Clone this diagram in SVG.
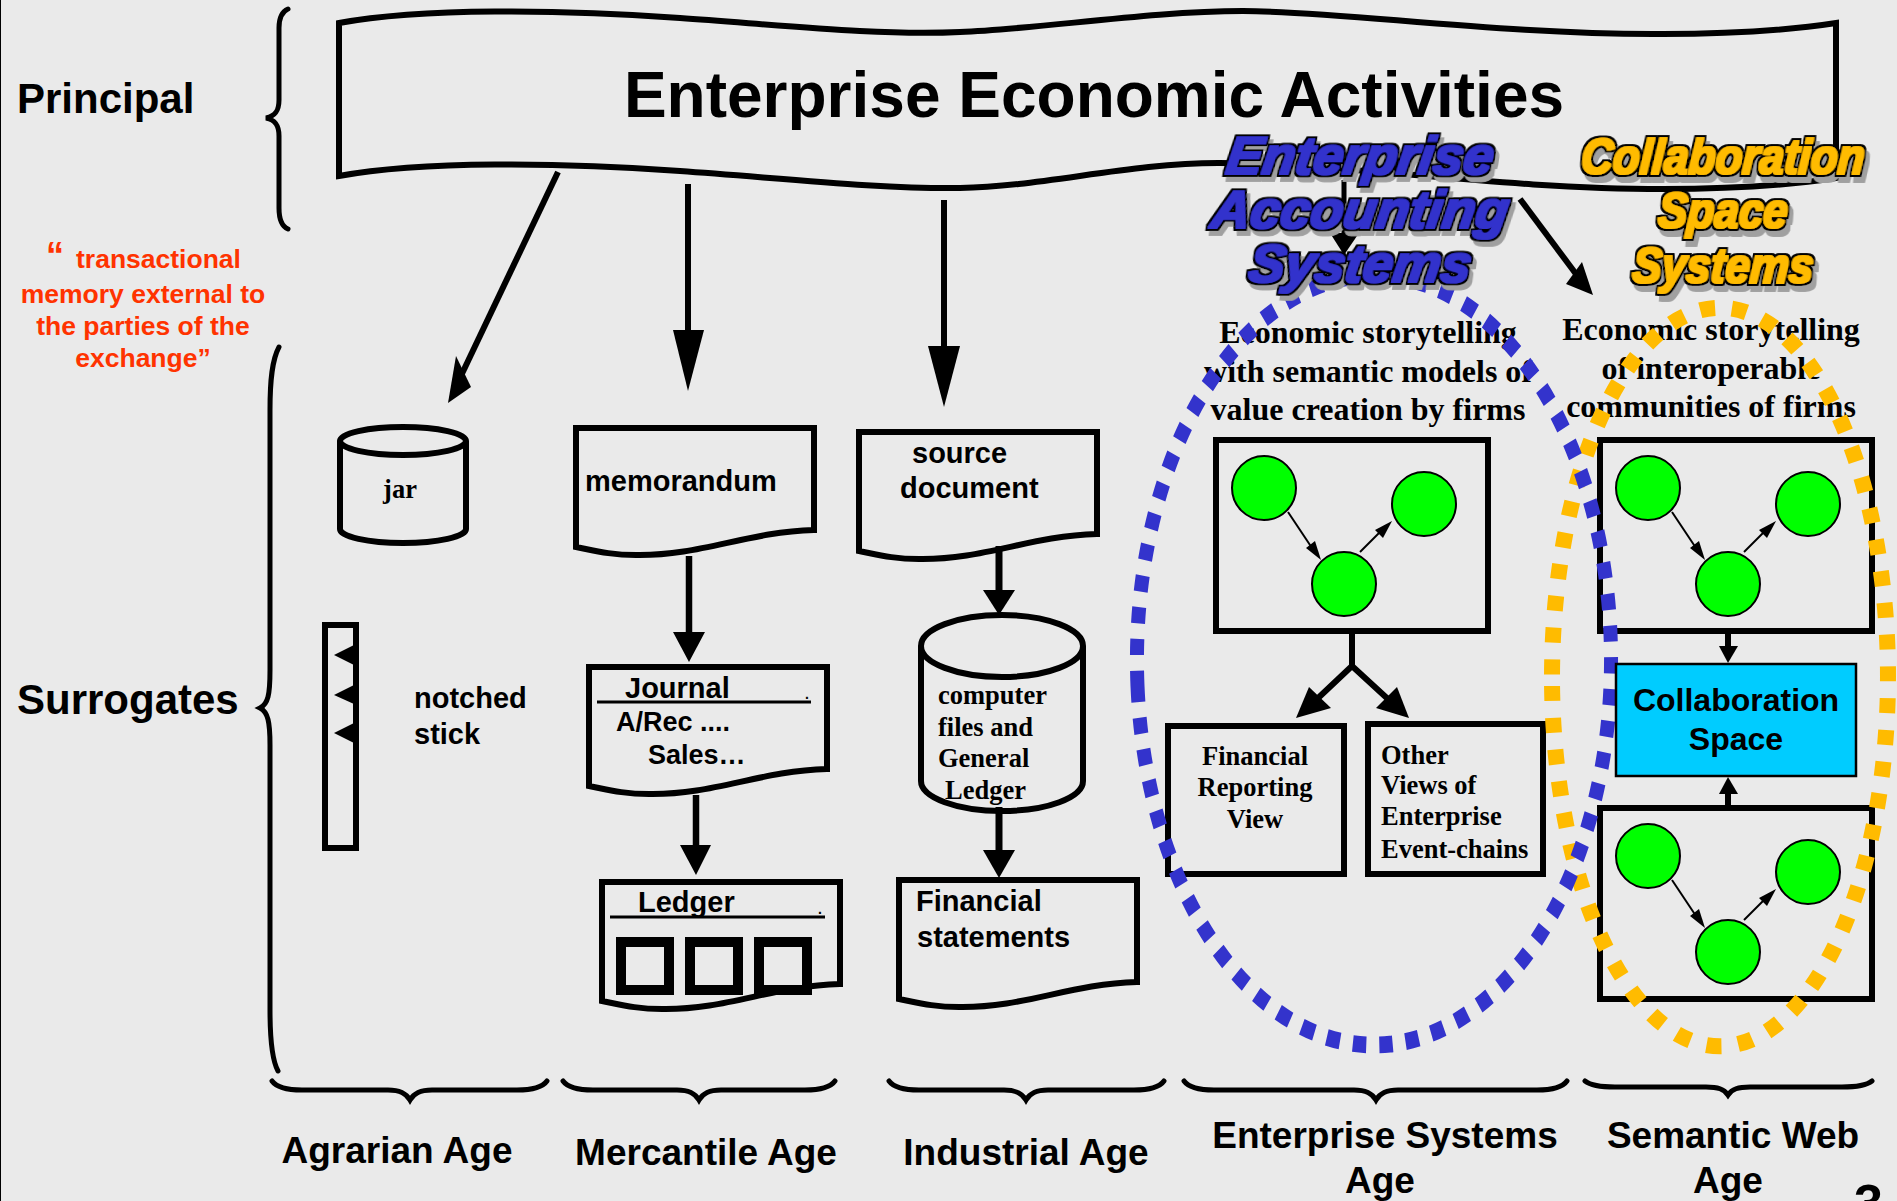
<svg xmlns="http://www.w3.org/2000/svg" xmlns:xlink="http://www.w3.org/1999/xlink" width="1897" height="1201" viewBox="0 0 1897 1201">
<style>
.s{font-family:"Liberation Sans",Arial,sans-serif;font-weight:bold;fill:#000}
.r{font-family:"Liberation Serif","Times New Roman",serif;font-weight:bold;fill:#000}
.m{text-anchor:middle}
.f29{font-size:29px}.f37{font-size:37px}.f42{font-size:42px}
.f26{font-size:26.5px}.f32{font-size:32px}
.red{font-size:26.5px;fill:#ff3300}
.o{fill:none;stroke:#000;stroke-width:6;stroke-linejoin:miter}
.d{fill:#eaeaea;stroke:#000;stroke-width:10}
.b{fill:none;stroke:#000;stroke-width:5;stroke-linecap:round}
.l{stroke:#000;stroke-width:6;fill:none}
.h{fill:#000;stroke:none}
.g{fill:#00ff00;stroke:#000;stroke-width:2}
.t{stroke:#000;stroke-width:2;fill:none}
.art{font-family:"Liberation Sans",Arial,sans-serif;font-weight:bold;font-style:italic;filter:url(#sh);text-anchor:middle}
.blue{fill:#3333cc;font-size:54px}
.gold{fill:#ffbb00;font-size:44px}
</style>
<defs>
<filter id="sh" x="-10%" y="-25%" width="125%" height="160%">
<feMorphology in="SourceGraphic" operator="dilate" radius="0.5" result="fat"/>
<feMorphology in="SourceAlpha" operator="dilate" radius="2.5" result="edge"/>
<feOffset in="edge" dx="4" dy="5" result="off"/>
<feFlood flood-color="#a0a0a0"/>
<feComposite in2="off" operator="in" result="shadow"/>
<feMerge><feMergeNode in="shadow"/><feMergeNode in="edge"/><feMergeNode in="fat"/></feMerge>
</filter>
<path id="doc" d="M0,0 H238 V102 C170,104 125,128 60,127 C35,127 20,123 0,119 Z"/>
<g id="net">
<circle class="g" cx="0" cy="0" r="32"/><circle class="g" cx="160" cy="16" r="32"/><circle class="g" cx="80" cy="96" r="32"/>
<line class="t" x1="24" y1="24" x2="52" y2="66"/><polygon class="h" points="57,72 42,60 51,53"/>
<line class="t" x1="96" y1="64" x2="122" y2="38"/><polygon class="h" points="128,33 119,50 111,42"/>
</g>
</defs>
<rect width="1897" height="1201" fill="#eaeaea"/>
<rect x="0" y="0" width="1" height="1201" fill="#000"/>

<g id="banner">
<path class="o" d="M339,23 C420,8 560,9 680,18 C780,25 880,36 960,32 C1040,29 1150,11 1243,11 C1340,11 1500,35 1663,34 C1730,34 1790,30 1836,23 V178 C1790,185 1730,189 1663,189 C1500,189 1340,163 1218,163 C1130,163 1040,187 960,188 C880,189 780,178 680,171 C560,162 420,161 339,176 Z"/>
<text class="s m" x="1094" y="117" font-size="64">Enterprise Economic Activities</text>
</g>
<g id="labels">
<text class="s f42" x="17" y="113">Principal</text>
<text class="s f42" x="17" y="714">Surrogates</text>
<text class="s red" x="46" y="268" style="font-size:36px">“</text>
<text class="s red" x="76" y="268">transactional</text>
<text class="s red m" x="143" y="303">memory external to</text>
<text class="s red m" x="143" y="335">the parties of the</text>
<text class="s red m" x="143" y="367">exchange”</text>
<text class="s m f37" x="397" y="1163">Agrarian Age</text>
<text class="s m f37" x="706" y="1165">Mercantile Age</text>
<text class="s m f37" x="1026" y="1165">Industrial Age</text>
<text class="s m f37" x="1385" y="1148">Enterprise Systems</text>
<text class="s m f37" x="1380" y="1193">Age</text>
<text class="s m f37" x="1733" y="1148">Semantic Web</text>
<text class="s m f37" x="1728" y="1193">Age</text>
<text class="s" x="1854" y="1221" font-size="52">3</text>
</g>
<g id="braces">
<path class="b" d="M288,9 C281,12 279,20 279,28 V100 C279,110 276,116 266,118 C276,120 279,126 279,136 V208 C279,218 281,226 288,229"/>
<path class="b" d="M279,347 C272,360 270,380 270,410 V670 C270,695 268,704 260,708 C268,712 270,722 270,745 V1010 C270,1040 272,1060 278,1071"/>
<path class="b" d="M272,1081 C277,1088 287,1090 302,1090 H388 C400,1090 406,1093 410,1100 C414,1093 420,1090 432,1090 H517 C532,1090 542,1088 547,1081"/>
<path class="b" d="M563,1081 C568,1088 578,1090 593,1090 H677 C689,1090 695,1093 699,1100 C703,1093 709,1090 721,1090 H805 C820,1090 830,1088 835,1081"/>
<path class="b" d="M889,1081 C894,1088 904,1090 919,1090 H1004 C1016,1090 1022,1093 1026,1100 C1030,1093 1036,1090 1048,1090 H1134 C1149,1090 1159,1088 1164,1081"/>
<path class="b" d="M1184,1081 C1189,1088 1199,1090 1214,1090 H1354 C1366,1090 1372,1093 1376,1100 C1380,1093 1386,1090 1398,1090 H1537 C1552,1090 1562,1088 1567,1081"/>
<path class="b" d="M1585,1081 C1590,1085 1600,1087 1615,1087 H1706 C1718,1087 1724,1089 1728,1095 C1732,1089 1738,1087 1750,1087 H1842 C1857,1087 1867,1085 1872,1081"/>
</g>
<g id="connectors">
<line class="l" x1="558" y1="172" x2="459" y2="380"/><polygon class="h" points="448,403 456,356 471,387"/>
<line class="l" x1="688" y1="184" x2="688" y2="335"/><polygon class="h" points="688,391 673,330 704,330"/>
<line class="l" x1="944" y1="200" x2="944" y2="350"/><polygon class="h" points="944,407 928,346 960,346"/>
<line class="l" x1="1344" y1="180" x2="1344" y2="238" style="stroke-width:5"/><polygon class="h" points="1344,255 1330,233 1359,233"/>
<line class="l" x1="1520" y1="199" x2="1576" y2="274"/><polygon class="h" points="1593,295 1582,262 1566,284"/>
<line class="l" x1="689" y1="556" x2="689" y2="636" style="stroke-width:6.5"/><polygon class="h" points="689,662 673,632 705,632"/>
<line class="l" x1="696" y1="795" x2="696" y2="849" style="stroke-width:6.5"/><polygon class="h" points="696,875 680,845 711,845"/>
<line class="l" x1="999" y1="546" x2="999" y2="594" style="stroke-width:7"/><polygon class="h" points="999,615 983,590 1015,590"/>
<line class="l" x1="999" y1="807" x2="999" y2="854" style="stroke-width:7"/><polygon class="h" points="999,878 983,850 1015,850"/>
<line class="l" x1="1728" y1="634" x2="1728" y2="648"/><polygon class="h" points="1728,663 1719,646 1738,646"/>
<line class="l" x1="1728" y1="794" x2="1728" y2="805"/><polygon class="h" points="1728,777 1719,794 1738,794"/>
<path class="l" d="M1352,634 V666 L1316,700 M1352,666 L1389,700" style="stroke-linejoin:round"/>
<polygon class="h" points="1296,718 1309,687 1331,708"/>
<polygon class="h" points="1409,718 1397,687 1376,708"/>
</g>
<g id="jar">
<path class="o" d="M340,441 V529 A63,14 0 0 0 466,529 V441"/>
<ellipse class="o" cx="403" cy="441" rx="63" ry="14"/>
<text class="r m f26" x="400" y="498">jar</text>
</g>
<g id="stick">
<rect class="o" x="325" y="625" width="31" height="223"/>
<polygon class="h" points="334,655 354,645 354,665"/>
<polygon class="h" points="334,695 354,685 354,704"/>
<polygon class="h" points="334,733 354,723 354,743"/>
<text class="s f29" x="414" y="708">notched</text>
<text class="s f29" x="414" y="744">stick</text>
</g>
<g id="memorandum">
<use href="#doc" class="o" transform="translate(576,428)"/>
<text class="s f29" x="585" y="491">memorandum</text>
</g>
<g id="source">
<use href="#doc" class="o" transform="translate(859,432)"/>
<text class="s f29" x="912" y="463">source</text>
<text class="s f29" x="900" y="498">document</text>
</g>
<g id="journal">
<use href="#doc" class="o" transform="translate(589,667)"/>
<text class="s f29" x="625" y="698">Journal</text>
<line x1="597" y1="702" x2="811" y2="702" stroke="#000" stroke-width="3"/>
<text class="s" font-size="14" x="805" y="699">.</text>
<text class="s" font-size="27" x="616" y="731">A/Rec ....</text>
<text class="s" font-size="27" x="648" y="764">Sales…</text>
</g>
<g id="ledger">
<use href="#doc" class="o" transform="translate(602,882)"/>
<text class="s f29" x="638" y="912">Ledger</text>
<line x1="610" y1="917" x2="825" y2="917" stroke="#000" stroke-width="3"/>
<text class="s" font-size="14" x="818" y="914">.</text>
<rect class="d" x="621" y="942" width="48" height="48"/>
<rect class="d" x="690" y="942" width="48" height="48"/>
<rect class="d" x="759" y="942" width="48" height="48"/>
</g>
<g id="computer">
<path class="o" d="M921,646 V781 A81,30 0 0 0 1083,781 V646"/>
<ellipse class="o" cx="1002" cy="646" rx="81" ry="31"/>
<text class="r f26" x="938" y="704">computer</text>
<text class="r f26" x="938" y="736">files and</text>
<text class="r f26" x="938" y="767">General</text>
<text class="r f26" x="945" y="799">Ledger</text>
</g>
<g id="statements">
<use href="#doc" class="o" transform="translate(899,880)"/>
<text class="s f29" x="916" y="911">Financial</text>
<text class="s f29" x="917" y="947">statements</text>
</g>
<g id="story-left">
<text class="r m f32" x="1368" y="343">Economic storytelling</text>
<text class="r m f32" x="1368" y="382">with semantic models of</text>
<text class="r m f32" x="1368" y="420">value creation by firms</text>
</g>
<g id="story-right">
<text class="r m f32" x="1711" y="340">Economic storytelling</text>
<text class="r m f32" x="1711" y="379">of interoperable</text>
<text class="r m f32" x="1711" y="417">communities of firms</text>
</g>
<g id="enterprise-box">
<rect class="o" x="1216" y="440" width="272" height="191"/>
<use href="#net" transform="translate(1264,488)"/>
</g>
<g id="financial-view">
<rect class="o" x="1168" y="726" width="176" height="148"/>
<text class="r m f26" x="1255" y="765">Financial</text>
<text class="r m f26" x="1255" y="796">Reporting</text>
<text class="r m f26" x="1255" y="828">View</text>
</g>
<g id="other-views">
<rect class="o" x="1368" y="724" width="175" height="150"/>
<text class="r f26" x="1381" y="764">Other</text>
<text class="r f26" x="1381" y="794">Views of</text>
<text class="r f26" x="1381" y="825">Enterprise</text>
<text class="r f26" x="1381" y="858">Event-chains</text>
</g>
<g id="semantic-top">
<rect class="o" x="1600" y="440" width="272" height="191"/>
<use href="#net" transform="translate(1648,488)"/>
</g>
<g id="semantic-bottom">
<rect class="o" x="1600" y="808" width="272" height="191"/>
<use href="#net" transform="translate(1648,856)"/>
</g>
<g id="ellipses">
<path fill="none" stroke="#ffbb00" stroke-width="16" stroke-dasharray="15 16.85" d="M1552.05,686 A168,370 0 0 0 1887.95,668 A168,370 0 0 0 1552.05,686"/>
<path fill="none" stroke="#3333cc" stroke-width="14" stroke-dasharray="13.5 13" transform="scale(1,1.2)" d="M1137.5,571.7 A237,320.8 0 0 0 1610.5,528.3 A237,320.8 0 0 0 1137.5,571.7"/>
</g>
<g id="collaboration-space">
<rect x="1616" y="664" width="240" height="112" fill="#00ccff" stroke="#000" stroke-width="2.5"/>
<text class="s m" font-size="32" x="1736" y="711">Collaboration</text>
<text class="s m" font-size="32" x="1736" y="750">Space</text>
</g>
<g id="enterprise-accounting-systems">
<text class="art blue" transform="translate(1358,174) skewX(-8)">Enterprise</text>
<text class="art blue" transform="translate(1358,228) skewX(-8)">Accounting</text>
<text class="art blue" transform="translate(1358,282) skewX(-8)">Systems</text>
</g>
<g id="collaboration-space-systems">
<text class="art gold" transform="translate(1722,174) skewX(-4) scale(1,1.15)">Collaboration</text>
<text class="art gold" transform="translate(1722,228) skewX(-4) scale(1,1.15)">Space</text>
<text class="art gold" transform="translate(1722,283) skewX(-4) scale(1,1.15)">Systems</text>
</g>
</svg>
